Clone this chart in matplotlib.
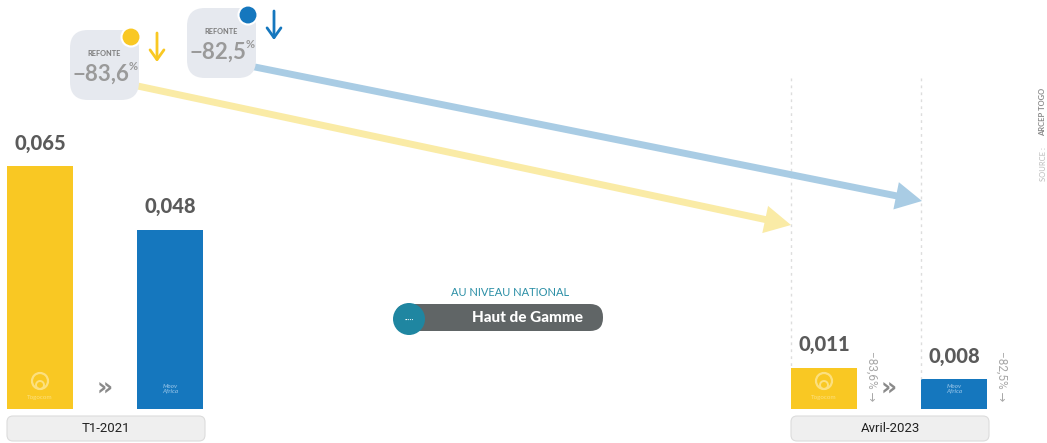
import matplotlib
matplotlib.use("Agg")
import matplotlib.pyplot as plt
from matplotlib.patches import FancyBboxPatch, FancyArrowPatch, Circle

# data
periods = ["T1-2021", "Avril-2023"]
operators = ["Togocom", "Moov Africa"]
values_t1 = [0.065, 0.048]
values_avril = [0.011, 0.008]
changes = ["−83,6", "−82,5"]
title_top = "AU NIVEAU NATIONAL"
title_main = "Haut de Gamme"
source_label = "SOURCE : "
source_name = "ARCEP TOGO"

W, H = 1047, 443
YELLOW = "#F9C823"
BLUE = "#1577BE"
PALE_YELLOW = "#FAEBA6"
PALE_BLUE = "#A9CCE4"
GREY_TXT = "#5a5a5a"

plt.rcParams["font.family"] = ["Lato", "DejaVu Sans"]

fig = plt.figure(figsize=(W / 100, H / 100), dpi=100)

# bar axes: x in pixels, y in data units, baseline at pixel 409
base_px = 409
px_per_unit = 3738
bar_ax = fig.add_axes([0, (H - base_px) / H, 1, base_px / H])
bar_ax.set_xlim(0, W)
bar_ax.set_ylim(0, base_px / px_per_unit)
bar_ax.axis("off")

# overlay axes in pixel coordinates
ov = fig.add_axes([0, 0, 1, 1], zorder=3)
ov.set_xlim(0, W)
ov.set_ylim(H, 0)
ov.axis("off")

bar_w = 66
group_x = [[40, 170], [824, 954]]
colors = [YELLOW, BLUE]
all_vals = [values_t1, values_avril]

# dotted guides in april group
for xc, v in zip(group_x[1], values_avril):
    top = base_px - v * px_per_unit
    ov.plot([xc - bar_w / 2, xc - bar_w / 2], [78, top], ls=(0, (2, 3)), color="#dddddd", lw=1, zorder=1)

for gx, vals, period in zip(group_x, all_vals, periods):
    bar_ax.bar(gx, vals, width=bar_w, color=colors, zorder=2)
    for xc, v in zip(gx, vals):
        ov.text(xc, base_px - v * px_per_unit - 23, f"{v:.3f}".replace(".", ","),
                ha="center", va="center", fontsize=14.5, fontweight="black", color=GREY_TXT)
    # logos
    ov.add_patch(Circle((gx[0], 381), 8, fill=False, ec="#FCE07F", lw=1.6, zorder=4))
    ov.add_patch(Circle((gx[0], 385), 4, fill=False, ec="#FCE07F", lw=1.4, zorder=4))
    ov.text(gx[0], 398, "Togocom", ha="center", va="center", fontsize=4.5, color="#FCE07F", zorder=4)
    ov.text(gx[1], 389, "Moov\nAfrica", ha="center", va="center", fontsize=4.5, style="italic",
            fontweight="bold", color="#7FB6E0", linespacing=0.9, zorder=4)
    # chevron
    ov.text((gx[0] + gx[1]) / 2, 389, "»", ha="center", va="center", fontsize=18,
            fontweight="bold", color="#8a8a8a", family="DejaVu Sans")
    # period pill
    x0 = gx[0] - 33
    ov.add_patch(FancyBboxPatch((x0 + 6, 416 + 6), 198 - 12, 25 - 12,
                                boxstyle="round,pad=6", fc="#efefef", ec="#dcdcdc", lw=0.8))
    ov.text(x0 + 99, 429, period, ha="center", va="center", fontsize=9.5, color="#222222",
            family=["Roboto", "DejaVu Sans"])

# percentage notes beside april bars
for xc, ch in zip(group_x[1], changes):
    ov.text(xc + 48, 351, ch + "% →", rotation=270, ha="center", va="top", fontsize=8.5,
            color="#a8a8a8", family=["Roboto", "DejaVu Sans"])

# big arrows
for start, end, col in [((100, 78), (791, 225), PALE_YELLOW), ((220, 60), (922, 201), PALE_BLUE)]:
    arr = FancyArrowPatch(start, end, arrowstyle="simple,head_length=19,head_width=20,tail_width=5",
                          mutation_scale=1, color=col, lw=0, shrinkA=0, shrinkB=0, zorder=1)
    ov.add_patch(arr)

# refonte badges
badges = [((70, 30), YELLOW, changes[0]), ((187, 8), BLUE, changes[1])]
for (bx, by), col, ch in badges:
    ov.add_patch(FancyBboxPatch((bx + 18, by + 18), 69 - 36, 70 - 36,
                                boxstyle="round,pad=18", fc="#e6e9ef", ec="none", zorder=5))
    ov.text(bx + 34, by + 23, "REFONTE", ha="center", va="center", fontsize=5.3,
            fontweight="bold", color="#7a7a7a", zorder=6)
    ov.text(bx + 31, by + 44, ch, ha="center", va="center", fontsize=16,
            fontweight="bold", color="#9a9a9a", zorder=6)
    ov.text(bx + 63, by + 36, "%", ha="center", va="center", fontsize=8,
            fontweight="bold", color="#9a9a9a", zorder=6)
    ov.add_patch(Circle((bx + 61, by + 7), 9.5, fc=col, ec="white", lw=1.5, zorder=7))
    down = FancyArrowPatch((bx + 87, by + 3), (bx + 87, by + 32),
                           arrowstyle="->,head_length=7,head_width=5", mutation_scale=1,
                           color=col, lw=2, shrinkA=0, shrinkB=0, zorder=6)
    ov.add_patch(down)

# centre title
ov.text(510, 292, title_top, ha="center", va="center", fontsize=8, color="#2b8fa6")
ov.add_patch(FancyBboxPatch((395 + 13, 304 + 13), 208 - 26, 27 - 26,
                            boxstyle="round,pad=13", fc="#606566", ec="none", zorder=4))
ov.text(528, 318, title_main, ha="center", va="center", fontsize=11, fontweight="black",
        color="white", zorder=6)
ov.add_patch(Circle((409, 319), 16, fc="#1f86a1", ec="none", zorder=5))
ov.text(409, 320, "·····", ha="center", va="center", fontsize=5, color="white", zorder=6)

# source
ov.text(1043, 136, source_name, rotation=90, ha="center", va="bottom", fontsize=5.5,
        fontweight="bold", color="#8a8a8a")
ov.text(1043, 181, source_label, rotation=90, ha="center", va="bottom", fontsize=5.5,
        color="#bbbbbb")

fig.savefig("out.png", dpi=100)
